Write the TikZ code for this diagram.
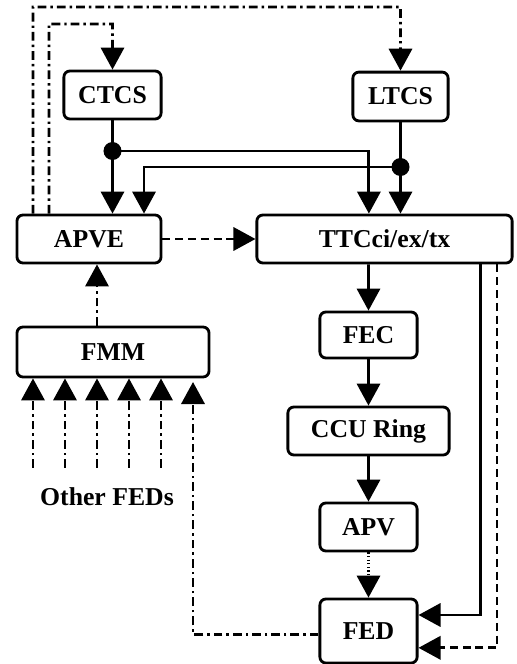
\documentclass[tikz,border=0pt]{standalone}
\usepackage{fontspec}
\setmainfont{Liberation Serif}
\usetikzlibrary{arrows.meta}
\tikzset{
  blk/.style={draw, line width=2pt, rounded corners=0.15cm, inner sep=0pt,
    font=\bfseries\fontsize{18.3}{22}\selectfont},
  dashdot/.style={dash pattern=on 0.22cm off 0.1cm on 0.06cm off 0.1cm},
  dashd/.style={dash pattern=on 0.2cm off 0.12cm},
  dotd/.style={dash pattern=on 0.03cm off 0.06cm},
}

\begin{document}
\begin{tikzpicture}[x=0.025cm, y=-0.025cm, line width=2pt,
    >={Triangle[width=0.58cm,length=0.55cm]}]
  \useasboundingbox (0,0) rectangle (516,664);
  % blocks
  \node[blk, minimum width=2.43cm, minimum height=1.2cm]  (ctcs) at (112.5,95)  {CTCS};
  \node[blk, minimum width=2.38cm, minimum height=1.22cm] (ltcs) at (400.5,96.5) {LTCS};
  \node[blk, minimum width=3.6cm,  minimum height=1.2cm]  (apve) at (89,239)    {APVE};
  \node[blk, minimum width=6.38cm, minimum height=1.2cm]  (ttc)  at (384.5,239) {TTCci/ex/tx};
  \node[blk, minimum width=4.8cm,  minimum height=1.25cm] (fmm)  at (113,352)   {FMM};
  \node[blk, minimum width=2.43cm, minimum height=1.15cm] (fec)  at (368.5,335) {FEC};
  \node[blk, minimum width=4.03cm, minimum height=1.2cm]  (ccu)  at (368.5,431) {CCU Ring};
  \node[blk, minimum width=2.43cm, minimum height=1.2cm]  (apv)  at (368.5,527) {APV};
  \node[blk, minimum width=2.43cm, minimum height=1.6cm]  (fed)  at (368.5,631) {FED};
  \node[font=\bfseries\fontsize{18.3}{22}\selectfont] (others) at (107,497) {Other FEDs};

  % clock and trigger lines
  \coordinate (j1) at (112.5,151);
  \coordinate (j2) at (400.5,167);
  \draw[->] (ctcs.south) -- (ctcs.south |- apve.north);
  \draw[->] (ltcs.south) -- (ltcs.south |- ttc.north);
  \draw[->] (j1) -| ([xshift=-0.39cm]ttc.north);
  \draw[->] (j2) -| ([xshift=1.375cm]apve.north);
  \fill (j1) circle (0.225cm);
  \fill (j2) circle (0.225cm);

  \draw[->, dashd] (apve.east) -- (ttc.west);
  \draw[->] ([xshift=-0.4cm]ttc.south) -- (fec.north);
  \draw[->] (fec) -- (ccu);
  \draw[->] (ccu) -- (apv);
  \draw[->, dotd] (apv) -- (fed);
  \draw[->] ([xshift=2.39cm]ttc.south) |- ([yshift=0.4cm]fed.east);
  \draw[->, dashd] ([xshift=2.81cm]ttc.south) |- ([yshift=-0.42cm]fed.east);

  % throttling
  \draw[->, dashdot] ([xshift=-0.4cm]fmm.north) -- ([xshift=-0.4cm]fmm.north |- apve.south);
  \foreach \dx in {-2,-1.2,-0.4,0.4,1.2}
    \draw[->, dashdot] ([xshift=\dx cm, yshift=0.35cm]fmm.south |- others.north) -- ([xshift=\dx cm]fmm.south);
  \coordinate (fmmin) at (193,382);
  \draw[->, dashdot] ([yshift=-0.08cm]fed.west) -| (fmmin);

  % control to the TCS
  \coordinate (outer) at (33,7);
  \coordinate (inner) at (49,24);
  \draw[->, dashdot] ([xshift=-1.4cm]apve.north) -- (outer) -| (ltcs.north);
  \draw[->, dashdot] ([xshift=-1cm]apve.north) -- (inner) -| (ctcs.north);
\end{tikzpicture}
\end{document}
